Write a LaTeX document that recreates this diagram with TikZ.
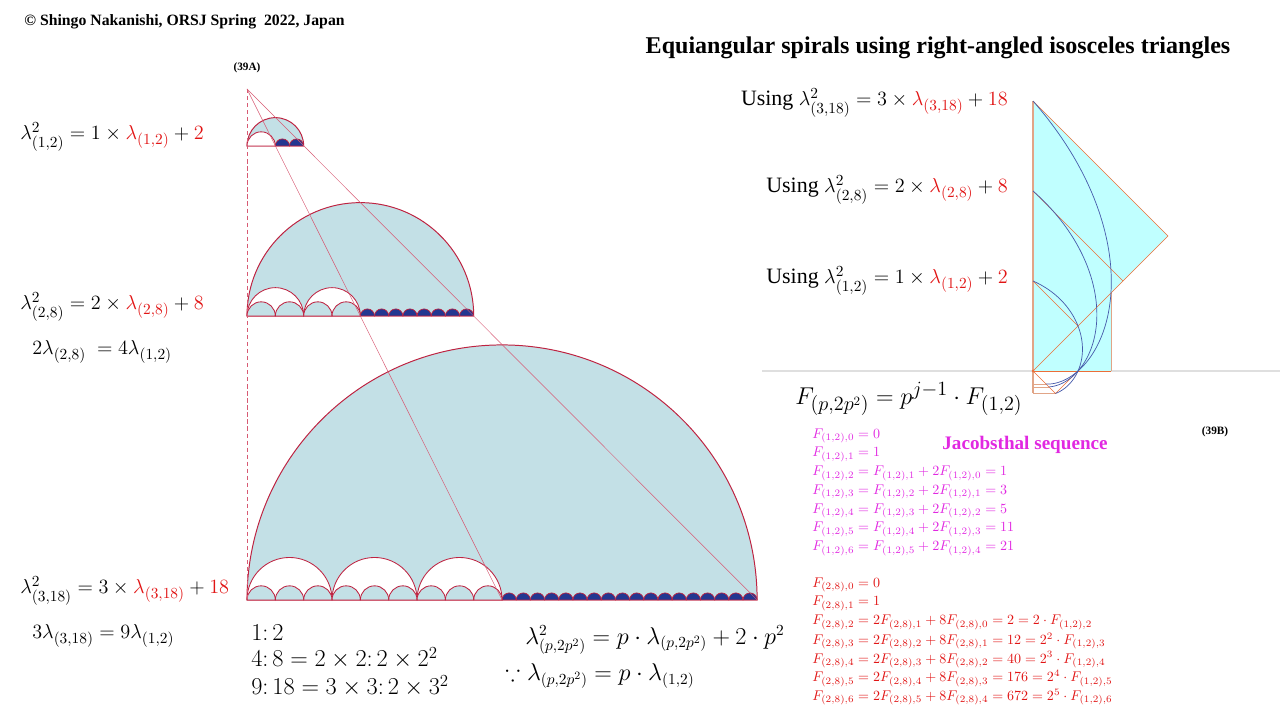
\documentclass[tikz,border=0pt]{standalone}
\usepackage[no-math]{fontspec}
\setmainfont{Liberation Serif}
\usepackage{amsmath,amssymb}
\definecolor{semired}{RGB}{190,35,65}
\definecolor{semifill}{RGB}{195,224,230}
\definecolor{semidark}{RGB}{35,55,145}
\definecolor{guidered}{RGB}{215,90,115}
\definecolor{eqred}{RGB}{225,20,20}
\definecolor{eqmag}{RGB}{225,40,225}
\definecolor{trifill}{RGB}{192,255,255}
\definecolor{triedge}{RGB}{236,110,55}
\definecolor{sqedge}{RGB}{225,165,135}
\definecolor{spblue}{RGB}{70,90,170}
\tikzset{
  bigsemi/.style={draw=semired, fill=semifill, line width=.7pt},
  whitesemi/.style={draw=semired, fill=white, line width=.6pt},
  innersemi/.style={draw=semired, fill=semifill, line width=.6pt},
  dotsemi/.style={draw=semired, fill=semidark, line width=.5pt},
  guide/.style={draw=guidered, line width=.35pt},
  eqn/.style={inner sep=0pt, font=\fontsize{15.6}{19}\selectfont},
  eqmid/.style={inner sep=0pt, font=\fontsize{15}{18}\selectfont},
  eqgen/.style={inner sep=0pt, font=\fontsize{16}{19}\selectfont},
  eqbig/.style={inner sep=0pt, font=\fontsize{17}{20}\selectfont},
  seqline/.style={inner sep=0pt, anchor=west, font=\fontsize{10}{12}\selectfont},
  tag/.style={inner sep=0pt, font=\fontsize{8}{9}\selectfont\bfseries}
}
\begin{document}
\begin{tikzpicture}[x=0.025cm, y=0.025cm]
\useasboundingbox (0,0) rectangle (1280,720);
\def\u{14.17}

% headings
\node [inner sep=0pt, font=\fontsize{11.2}{13}\selectfont\bfseries] (copy) at (184.5,698) {\textcopyright\ Shingo\ Nakanishi, ORSJ Spring\ \ 2022, Japan};
\node [inner sep=0pt, font=\fontsize{17.1}{20}\selectfont\bfseries] (title) at (938,672) {Equiangular spirals using right-angled isosceles triangles};
\node [tag] (tagA) at (247,652) {(39A)};
\node [tag] (tagB) at (1215,288) {(39B)};

% lambda_(1,2)
\draw [bigsemi] (247,574) arc [start angle=180, end angle=0, radius=2*\u] -- cycle;
\draw [whitesemi] (247,574) arc [start angle=180, end angle=0, radius=\u] -- cycle;
\foreach \k in {0,1}
  \draw [dotsemi] ({247+(2+\k)*\u},574) arc [start angle=180, end angle=0, radius=\u/2] -- cycle;

% lambda_(2,8)
\draw [bigsemi] (247,404) arc [start angle=180, end angle=0, radius=8*\u] -- cycle;
\foreach \k in {0,1}
  \draw [whitesemi] ({247+4*\k*\u},404) arc [start angle=180, end angle=0, radius=2*\u] -- cycle;
\foreach \k in {0,...,3}
  \draw [innersemi] ({247+2*\k*\u},404) arc [start angle=180, end angle=0, radius=\u] -- cycle;
\foreach \k in {0,...,7}
  \draw [dotsemi] ({247+(8+\k)*\u},404) arc [start angle=180, end angle=0, radius=\u/2] -- cycle;

% lambda_(3,18)
\draw [bigsemi] (247,120) arc [start angle=180, end angle=0, radius=18*\u] -- cycle;
\foreach \k in {0,1,2}
  \draw [whitesemi] ({247+6*\k*\u},120) arc [start angle=180, end angle=0, radius=3*\u] -- cycle;
\foreach \k in {0,...,8}
  \draw [innersemi] ({247+2*\k*\u},120) arc [start angle=180, end angle=0, radius=\u] -- cycle;
\foreach \k in {0,...,17}
  \draw [dotsemi] ({247+(18+\k)*\u},120) arc [start angle=180, end angle=0, radius=\u/2] -- cycle;

% guide lines from the apex
\coordinate (apex) at (247,631);
\coordinate (foot) at (247,120);
\coordinate (mid) at ({247+18*\u},120);
\coordinate (end) at ({247+36*\u},120);
\draw [guide, densely dashed] (apex) -- (foot);
\draw [guide] (apex) -- (mid);
\draw [guide] (apex) -- (end);

% left equations
\node [eqn, anchor=west] (f12) at (20,583) {$\lambda^2_{(1,2)} = 1\times\textcolor{eqred}{\lambda_{(1,2)}} + \textcolor{eqred}{2}$};
\node [eqn, anchor=west] (f28) at (20,413) {$\lambda^2_{(2,8)} = 2\times\textcolor{eqred}{\lambda_{(2,8)}} + \textcolor{eqred}{8}$};
\node [eqmid, anchor=west] (r28) at (32,368) {$2\lambda_{(2,8)}\ = 4\lambda_{(1,2)}$};
\node [eqn, anchor=west] (f318) at (20,129) {$\lambda^2_{(3,18)} = 3\times\textcolor{eqred}{\lambda_{(3,18)}} + \textcolor{eqred}{18}$};
\node [eqmid, anchor=west] (r318) at (32,84) {$3\lambda_{(3,18)} = 9\lambda_{(1,2)}$};

\node [eqbig, anchor=west] (q1) at (251,87) {$1{:}\,2$};
\node [eqbig, anchor=west] (q2) at (251,62) {$4{:}\,8 = 2\times 2{:}\,2\times 2^2$};
\node [eqbig, anchor=west] (q3) at (251,34) {$9{:}\,18 = 3\times 3{:}\,2\times 3^2$};
\node [eqgen, anchor=west] (gen) at (525,80) {$\lambda^2_{(p,2p^2)} = p\cdot\lambda_{(p,2p^2)} + 2\cdot p^2$};
\node [eqgen, anchor=west] (gen2) at (505,44) {$\because\lambda_{(p,2p^2)} = p\cdot\lambda_{(1,2)}$};

% right equations
\node [eqn, anchor=east] (u318) at (1008,617) {Using $\lambda^2_{(3,18)} = 3\times\textcolor{eqred}{\lambda_{(3,18)}} + \textcolor{eqred}{18}$};
\node [eqn, anchor=east] (u28) at (1008,530) {Using $\lambda^2_{(2,8)} = 2\times\textcolor{eqred}{\lambda_{(2,8)}} + \textcolor{eqred}{8}$};
\node [eqn, anchor=east] (u12) at (1008,439) {Using $\lambda^2_{(1,2)} = 1\times\textcolor{eqred}{\lambda_{(1,2)}} + \textcolor{eqred}{2}$};
\node [inner sep=0pt, anchor=west, font=\fontsize{19}{22}\selectfont] (fgen) at (795,321) {$F_{(p,2p^2)} = p^{j-1}\cdot F_{(1,2)}$};

% spirals
\draw [gray!25, line width=.8pt] (762,349) -- (1280,349);
\begin{scope}[shift={(1033,349)}]
\coordinate (O) at (0,0);
\coordinate (A) at (0,270);
\coordinate (B) at (135,135);
\coordinate (C) at (0,180);
\coordinate (Bm) at (90,90);
\coordinate (D) at (0,90);
\coordinate (Bs) at (45,45);
\coordinate (P) at (45,0);
\coordinate (Q) at (22.5,-22.5);
\fill [trifill] (A) -- (B) -- (O) -- cycle;
\foreach \l in {2,4,6} {
  \pgfmathsetmacro\s{31.82*sqrt(\l)}
  \pgfmathsetmacro\q{31.82/sqrt(\l)}
  \fill [trifill] (O) -- (\s,\s) -- (\s,0) -- cycle;
  \draw [sqedge] (\s,\s) -- (\s,0);
  \draw [sqedge] (0,-\q) -- (\q,-\q);
}
\draw [triedge] (O) -- (77.94,0);
\draw [sqedge, line width=.8pt] (A) -- (0,-22.5);
\draw [triedge] (A) -- (B) -- (O);
\draw [triedge] (C) -- (Bm);
\draw [triedge] (D) -- (Bs);
\draw [triedge] (O) -- (Q) -- (P);
\fill [triedge] (O) circle [radius=1.5];
\foreach \l in {2,4,6}
  \draw [spblue, line width=.5pt] plot [domain=90:-45, samples=90, smooth, variable=\t]
    ({45*exp(\t/90*ln(\l))*cos(\t)}, {45*exp(\t/90*ln(\l))*sin(\t)});
\end{scope}

% Jacobsthal sequence
\node [inner sep=0pt, text=eqmag, font=\fontsize{13.6}{16}\selectfont\bfseries] (jac) at (1025,275) {Jacobsthal sequence};
\begin{scope}[text=eqmag]
\node [seqline] (m0) at (812,284) {$F_{(1,2),0} = 0$};
\node [seqline] (m1) at (812,265.3) {$F_{(1,2),1} = 1$};
\node [seqline] (m2) at (812,246.6) {$F_{(1,2),2} = F_{(1,2),1} + 2F_{(1,2),0} = 1$};
\node [seqline] (m3) at (812,227.9) {$F_{(1,2),3} = F_{(1,2),2} + 2F_{(1,2),1} = 3$};
\node [seqline] (m4) at (812,209.2) {$F_{(1,2),4} = F_{(1,2),3} + 2F_{(1,2),2} = 5$};
\node [seqline] (m5) at (812,190.5) {$F_{(1,2),5} = F_{(1,2),4} + 2F_{(1,2),3} = 11$};
\node [seqline] (m6) at (812,171.8) {$F_{(1,2),6} = F_{(1,2),5} + 2F_{(1,2),4} = 21$};
\end{scope}
\begin{scope}[text=eqred]
\node [seqline] (s0) at (812,135) {$F_{(2,8),0} = 0$};
\node [seqline] (s1) at (812,116.3) {$F_{(2,8),1} = 1$};
\node [seqline] (s2) at (812,97.6) {$F_{(2,8),2} = 2F_{(2,8),1} + 8F_{(2,8),0} = 2 = 2\cdot F_{(1,2),2}$};
\node [seqline] (s3) at (812,78.9) {$F_{(2,8),3} = 2F_{(2,8),2} + 8F_{(2,8),1} = 12 = 2^2\cdot F_{(1,2),3}$};
\node [seqline] (s4) at (812,60.2) {$F_{(2,8),4} = 2F_{(2,8),3} + 8F_{(2,8),2} = 40 = 2^3\cdot F_{(1,2),4}$};
\node [seqline] (s5) at (812,41.5) {$F_{(2,8),5} = 2F_{(2,8),4} + 8F_{(2,8),3} = 176 = 2^4\cdot F_{(1,2),5}$};
\node [seqline] (s6) at (812,22.8) {$F_{(2,8),6} = 2F_{(2,8),5} + 8F_{(2,8),4} = 672 = 2^5\cdot F_{(1,2),6}$};
\end{scope}
\end{tikzpicture}
\end{document}
